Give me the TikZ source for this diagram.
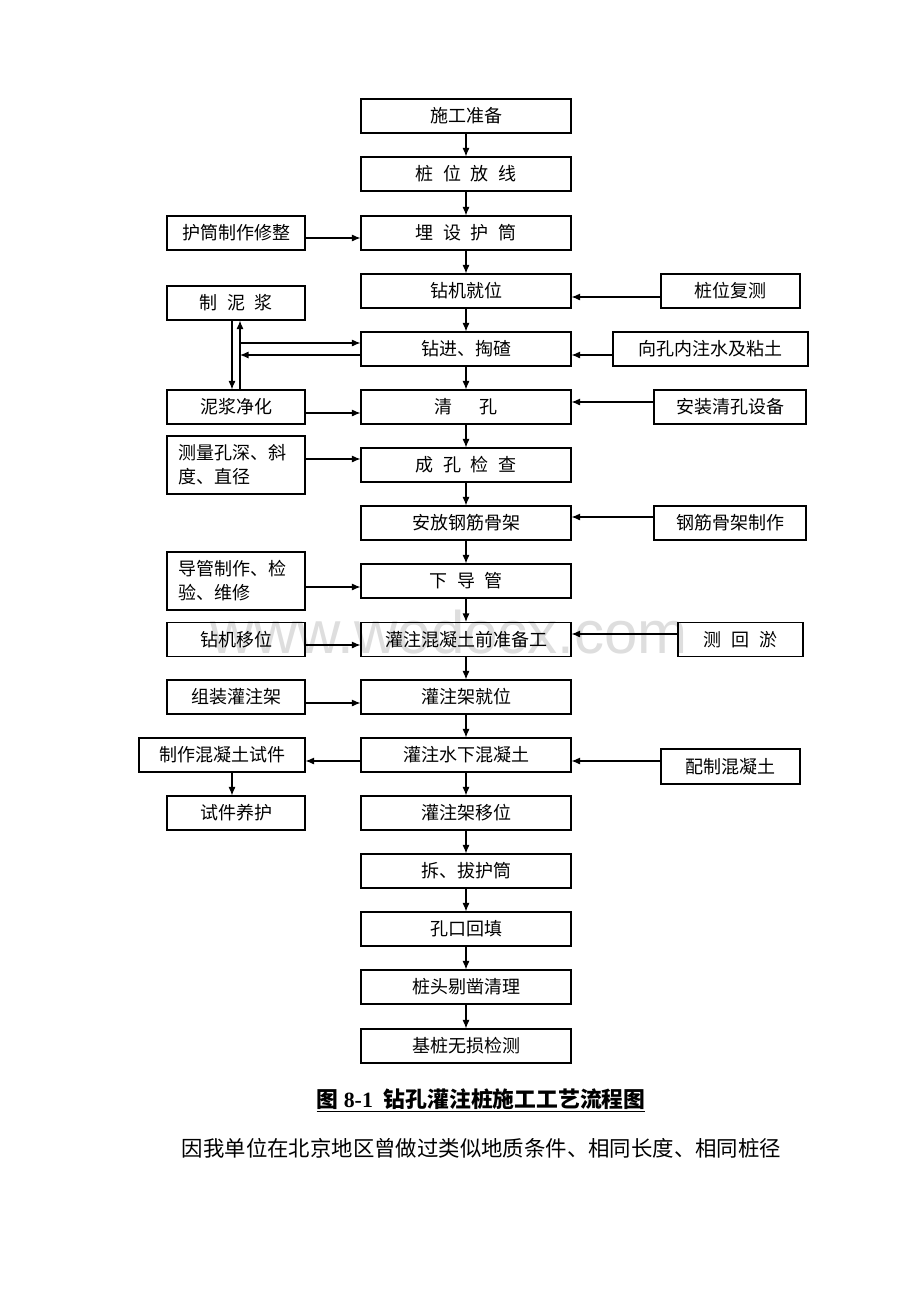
\documentclass[tikz,border=0pt]{standalone}
\usepackage{fontspec}
\setmainfont{Liberation Serif}
\newfontfamily\cjk{Noto Sans CJK SC}
\newfontfamily\wmfont{Liberation Sans}
\usetikzlibrary{arrows.meta}
\newcommand{\gap}{\hspace{0.55em}}
\begin{document}
\begin{tikzpicture}[x=1pt,y=-1pt,
  box/.style={draw, line width=1.1pt, inner sep=0pt, align=center,
    font=\cjk\fontsize{18}{24}\selectfont},
  mainbox/.style={box, minimum width=210pt, minimum height=34pt},
  sidebox/.style={box, minimum width=138pt, minimum height=34pt},
  twoline/.style={box, minimum width=138pt, minimum height=58pt, text width=116pt, align=left},
  arr/.style={line width=1.1pt, -{Latex[length=8.5pt,width=7pt]}},
]
\useasboundingbox (0,0) rectangle (920,1302);
\fill[white] (0,0) rectangle (920,1302);

% watermark
\node[anchor=base east, inner sep=0pt, text=black!13,
  font=\wmfont\fontsize{60}{60}\selectfont] (wm) at (688,653) {www.wodocx.com};

% main column
\node[mainbox] (m1) at (466,116) {施工准备};
\node[mainbox] (m2) at (466,174) {桩\gap 位\gap 放\gap 线};
\node[mainbox] (m3) at (466,233) {埋\gap 设\gap 护\gap 筒};
\node[mainbox] (m4) at (466,291) {钻机就位};
\node[mainbox] (m5) at (466,349) {钻进、掏碴};
\node[mainbox] (m6) at (466,407) {清\hspace{1.45em}孔};
\node[mainbox] (m7) at (466,465) {成\gap 孔\gap 检\gap 查};
\node[mainbox] (m8) at (466,523) {安放钢筋骨架};
\node[mainbox] (m9) at (466,581) {下\gap 导\gap 管};
\node[mainbox] (m10) at (466,639.5) {灌注混凝土前准备工};
\node[mainbox] (m11) at (466,697) {灌注架就位};
\node[mainbox] (m12) at (466,755) {灌注水下混凝土};
\node[mainbox] (m13) at (466,813) {灌注架移位};
\node[mainbox] (m14) at (466,871) {拆、拔护筒};
\node[mainbox] (m15) at (466,929) {孔口回填};
\node[mainbox] (m16) at (466,987) {桩头剔凿清理};
\node[mainbox] (m17) at (466,1046) {基桩无损检测};

\foreach \a/\b in {m1/m2,m2/m3,m3/m4,m4/m5,m5/m6,m6/m7,m7/m8,m8/m9,m9/m10,
  m10/m11,m11/m12,m12/m13,m13/m14,m14/m15,m15/m16,m16/m17}
  \draw[arr] (\a) -- (\b);

% left column
\node[sidebox] (lh) at (236,233) {护筒制作修整};
\node[sidebox] (lm) at (236,303) {制\gap 泥\gap 浆};
\node[sidebox] (ln) at (236,407) {泥浆净化};
\node[twoline] (lc) at (236,465) {测量孔深、斜\\度、直径};
\node[twoline] (ld) at (236,581) {导管制作、检\\验、维修};
\node[sidebox] (lz) at (236,639.5) {钻机移位};
\node[sidebox] (lg) at (236,697) {组装灌注架};
\node[box, minimum width=166pt, minimum height=34pt] (ls) at (222,755) {制作混凝土试件};
\node[sidebox] (ly) at (236,813) {试件养护};

% right column
\node[box, minimum width=139pt, minimum height=34pt] (r1) at (730.5,291) {桩位复测};
\node[box, minimum width=195pt, minimum height=34pt] (r2) at (710.5,349) {向孔内注水及粘土};
\node[box, minimum width=152pt, minimum height=34pt] (r3) at (730,407) {安装清孔设备};
\node[box, minimum width=152pt, minimum height=34pt] (r4) at (730,523) {钢筋骨架制作};
\node[box, minimum width=125pt, minimum height=34pt] (r5) at (740.5,639.5) {测\gap 回\gap 淤};
\node[box, minimum width=139pt, minimum height=35pt] (r6) at (730.5,766.5) {配制混凝土};

% left -> main
\draw[arr] ([yshift=-5pt]lh.east) -- ([yshift=-5pt]lh.east -| m3.west);
\draw[arr] ([yshift=-6pt]ln.east) -- ([yshift=-6pt]ln.east -| m6.west);
\draw[arr] ([yshift=6pt]lc.east) -- ([yshift=6pt]lc.east -| m7.west);
\draw[arr] ([yshift=-6pt]ld.east) -- ([yshift=-6pt]ld.east -| m9.west);
\draw[arr] ([yshift=-5.5pt]lz.east) -- ([yshift=-5.5pt]lz.east -| m10.west);
\draw[arr] ([yshift=-6pt]lg.east) -- ([yshift=-6pt]lg.east -| m11.west);
\draw[arr] ([yshift=-6pt]m12.west) -- ([yshift=-6pt]m12.west -| ls.east);
\draw[arr] ([xshift=10pt]ls.south) -- ([xshift=10pt]ls.south |- ly.north);

% right -> main
\draw[arr] ([yshift=-6pt]r1.west) -- ([yshift=-6pt]r1.west -| m4.east);
\draw[arr] ([yshift=-6pt]r2.west) -- ([yshift=-6pt]r2.west -| m5.east);
\draw[arr] ([yshift=5pt]r3.west) -- ([yshift=5pt]r3.west -| m6.east);
\draw[arr] ([yshift=6pt]r4.west) -- ([yshift=6pt]r4.west -| m8.east);
\draw[arr] ([yshift=5.5pt]r5.west) -- ([yshift=5.5pt]r5.west -| m10.east);
\draw[arr] ([yshift=5.5pt]r6.west) -- ([yshift=5.5pt]r6.west -| m12.east);

% mud loop
\coordinate (dn) at ([xshift=-4pt]lm.south);
\coordinate (up) at ([xshift=4pt]ln.north);
\coordinate (v1) at ([yshift=6pt]m5.west);
\coordinate (v2) at ([yshift=-6pt]m5.west);
\draw[arr] (dn) -- (dn |- ln.north);
\draw[arr] (up) -- (up |- lm.south);
\draw[arr] (up |- v1) -- (v1);
\draw[arr] (v2) -- (up |- v2);

% caption and text
\node[inner sep=0pt, font=\bfseries\fontsize{21.8}{26}\selectfont] (cap) at (481,1100)
  {\underline{{\cjk 图} 8-1\ \ {\cjk 钻孔灌注桩施工工艺流程图}}};
\node[inner sep=0pt, font=\cjk\fontsize{21.4}{26}\selectfont] (body) at (481.5,1148)
  {因我单位在北京地区曾做过类似地质条件、相同长度、相同桩径};
\end{tikzpicture}
\end{document}
